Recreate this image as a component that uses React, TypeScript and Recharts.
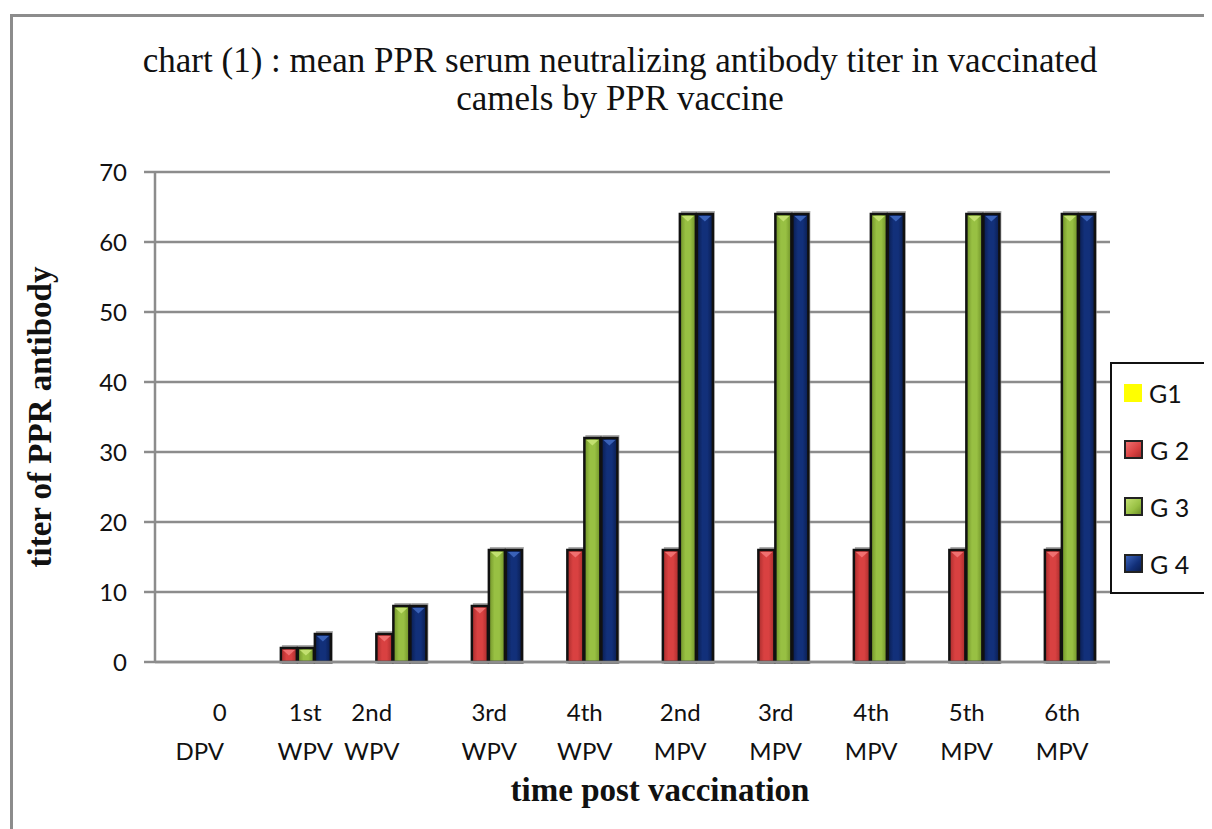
import { BarChart, Bar, XAxis, YAxis, CartesianGrid } from 'recharts'

const categories = ['0 DPV', '1st WPV', '2nd WPV', '3rd WPV', '4th WPV', '2nd MPV', '3rd MPV', '4th MPV', '5th MPV', '6th MPV']
const g1 = [0, 0, 0, 0, 0, 0, 0, 0, 0, 0]
const g2 = [0, 2, 4, 8, 16, 16, 16, 16, 16, 16]
const g3 = [0, 2, 8, 16, 32, 64, 64, 64, 64, 64]
const g4 = [0, 4, 8, 16, 32, 64, 64, 64, 64, 64]
const yTicks = [0, 10, 20, 30, 40, 50, 60, 70]

const series = [
  { key: 'g1', name: 'G1', values: g1, base: '#ffff00', light: '#ffff66', dark: '#dddd00' },
  { key: 'g2', name: 'G 2', values: g2, base: '#d94141', light: '#f07070', dark: '#a82c2c' },
  { key: 'g3', name: 'G 3', values: g3, base: '#98c043', light: '#c2e070', dark: '#6f9128' },
  { key: 'g4', name: 'G 4', values: g4, base: '#12307a', light: '#3a62b8', dark: '#0a1d4f' },
]

const data = categories.map((c, i) => {
  const row: any = { cat: c }
  series.forEach((s) => (row[s.key] = s.values[i]))
  return row
})

// Excel put a few of the wrapped labels off-centre
const tickShift: Record<string, [number, number]> = {
  '0 DPV': [17, -3],
  '1st WPV': [7, 7],
  '2nd WPV': [-22, -22],
}

const sans = 'Lato, "Open Sans", sans-serif'
const serif = '"Liberation Serif", "Times New Roman", serif'

function XTick(props: any) {
  const { x, y, payload } = props
  const parts = String(payload.value).split(' ')
  const [d1, d2] = tickShift[payload.value] || [0, 0]
  return (
    <g>
      <text x={x + d1} y={y + 51} textAnchor="middle" fontFamily={sans} fontSize={24} fill="#111">
        {parts[0]}
      </text>
      <text x={x + d2} y={y + 90} textAnchor="middle" fontFamily={sans} fontSize={24} fill="#111">
        {parts[1]}
      </text>
    </g>
  )
}

function Bar3D(props: any) {
  const { x, y, width, height, tone } = props
  if (!height || height <= 0.5) return null
  const tri = Math.min(width * 0.35, height / 2)
  return (
    <g>
      <rect x={x + 1} y={y - 3} width={width + 1} height={height + 5} fill="#8a8a8a" opacity={0.7} />
      <rect x={x} y={y} width={width} height={height} fill={`url(#grad-${tone.key})`} stroke="#111" strokeWidth={2.5} />
      <polygon
        points={`${x + 2},${y + 2} ${x + width - 2},${y + 2} ${x + width / 2},${y + 2 + tri}`}
        fill={tone.light}
      />
    </g>
  )
}

export default function App() {
  return (
    <div style={{ position: 'relative', width: 1204, height: 821, overflow: 'hidden', background: '#fff' }}>
      <div
        style={{
          position: 'absolute',
          left: 2,
          top: 6,
          width: 1300,
          height: 900,
          border: '3px solid #8c8c8c',
          boxSizing: 'border-box',
        }}
      />
      <div
        style={{
          position: 'absolute',
          left: 0,
          width: 1224,
          top: 34,
          textAlign: 'center',
          fontFamily: serif,
          fontSize: 35,
          lineHeight: '38px',
          color: '#111',
        }}
      >
        chart (1) : mean PPR serum neutralizing antibody titer in vaccinated
        <br />
        camels by PPR vaccine
      </div>
      <div
        style={{
          position: 'absolute',
          left: 32 - 200,
          top: 409 - 20,
          width: 400,
          height: 40,
          lineHeight: '40px',
          textAlign: 'center',
          transform: 'rotate(-90deg)',
          fontFamily: serif,
          fontWeight: 'bold',
          fontSize: 33,
          color: '#111',
        }}
      >
        titer of PPR antibody
      </div>
      <div
        style={{
          position: 'absolute',
          left: 452,
          width: 400,
          top: 764,
          textAlign: 'center',
          fontFamily: serif,
          fontWeight: 'bold',
          fontSize: 33,
          color: '#111',
        }}
      >
        time post vaccination
      </div>

      <BarChart
        width={1204}
        height={821}
        data={data}
        margin={{ top: 164, right: 102, bottom: 67, left: 0 }}
        barCategoryGap="14%"
        barGap={1}
        style={{ position: 'absolute', left: 0, top: 0 }}
      >
        <defs>
          {series.map((s) => (
            <linearGradient key={s.key} id={`grad-${s.key}`} x1="0" y1="0" x2="1" y2="0">
              <stop offset="0%" stopColor={s.dark} />
              <stop offset="35%" stopColor={s.base} />
              <stop offset="65%" stopColor={s.base} />
              <stop offset="100%" stopColor={s.dark} />
            </linearGradient>
          ))}
        </defs>
        <CartesianGrid vertical={false} stroke="#8c8c8c" strokeWidth={2.5} />
        <XAxis
          dataKey="cat"
          interval={0}
          height={100}
          tickLine={false}
          axisLine={{ stroke: '#8c8c8c', strokeWidth: 2.5 }}
          tick={<XTick />}
        />
        <YAxis
          width={147}
          domain={[0, 70]}
          ticks={yTicks}
          interval={0}
          tickSize={11}
          tickMargin={17}
          axisLine={{ stroke: '#8c8c8c', strokeWidth: 2.5 }}
          tickLine={{ stroke: '#8c8c8c', strokeWidth: 2.5 }}
          tick={{ fontFamily: sans, fontSize: 24, fill: '#111' }}
        />
        {series.map((s) => (
          <Bar
            key={s.key}
            dataKey={s.key}
            name={s.name}
            fill={s.base}
            isAnimationActive={false}
            shape={(p: any) => <Bar3D {...p} tone={s} />}
          />
        ))}
      </BarChart>

      <div
        style={{
          position: 'absolute',
          left: 1102,
          top: 354,
          width: 100,
          height: 232,
          border: '2px solid #111',
          boxSizing: 'border-box',
          background: '#fff',
          display: 'flex',
          flexDirection: 'column',
          justifyContent: 'space-around',
          paddingLeft: 12,
        }}
      >
        {series.map((s, i) => (
          <div key={s.key} style={{ display: 'flex', alignItems: 'center', fontFamily: sans, fontSize: 25, color: '#111' }}>
            <span
              style={{
                display: 'inline-block',
                width: i === 0 ? 18 : 15,
                height: i === 0 ? 18 : 15,
                background: i === 0 ? s.base : `linear-gradient(135deg, ${s.light}, ${s.base} 60%, ${s.dark})`,
                border: i === 0 ? 'none' : '2px solid #222',
                marginRight: 7,
              }}
            />
            {s.name}
          </div>
        ))}
      </div>
    </div>
  )
}
